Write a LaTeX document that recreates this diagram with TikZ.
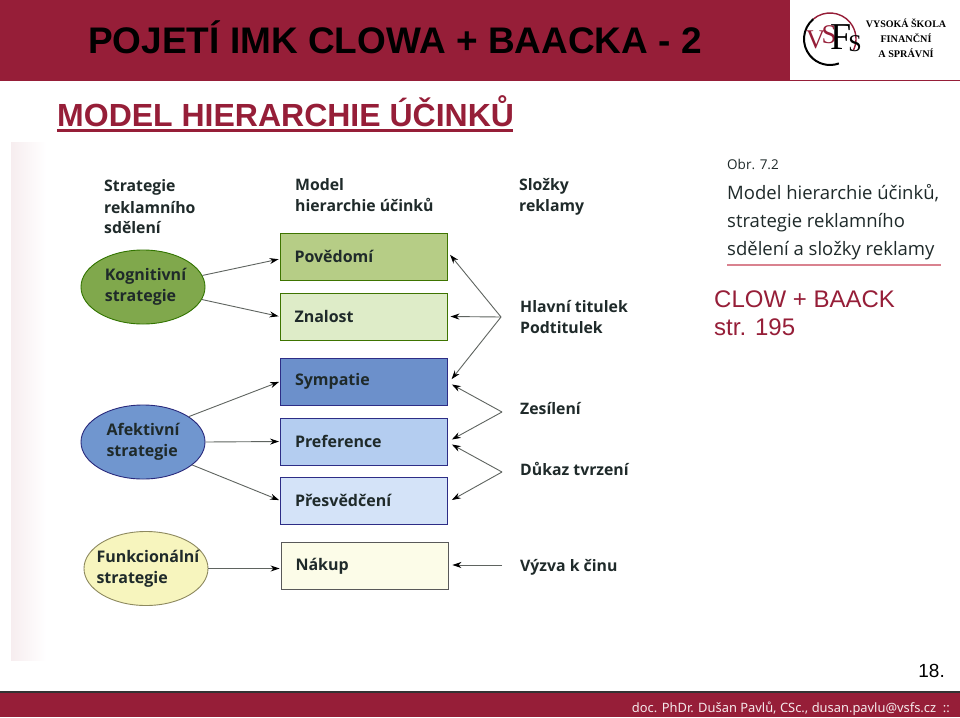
\documentclass[tikz,border=0pt]{standalone}
\usepackage{fontspec}
\usetikzlibrary{arrows.meta,shapes.geometric}
\setmainfont{Liberation Sans}
\newfontfamily\dgfont{Open Sans}
\newfontfamily\logofont{Liberation Serif}
\newfontfamily\footfont{Noto Sans}
\definecolor{crim}{HTML}{961E38}
\definecolor{inkdark}{HTML}{1F2A2A}
\definecolor{edgegrey}{HTML}{5F6460}
\definecolor{rulepink}{HTML}{D9828F}
\tikzset{
  lbl/.style={anchor=base west,inner sep=0pt,font=\dgfont\bfseries\fontsize{15.8}{15.8}\selectfont,text=inkdark},
  captext/.style={anchor=base west,inner sep=0pt,font=\dgfont\fontsize{18.5}{18.5}\selectfont,text=inkdark},
  stagebox/.style={draw=#1!70!black,line width=0.9pt,minimum height=47pt,text width=138pt,inner xsep=14.5pt,inner ysep=0pt,align=left,font=\dgfont\bfseries\fontsize{16}{16}\selectfont,text=inkdark},
  stratell/.style={ellipse,draw=#1!65!black,line width=0.9pt,minimum width=124pt,minimum height=74pt,inner sep=0pt,align=left,font=\dgfont\bfseries\fontsize{16}{21}\selectfont,text=inkdark},
  link/.style={draw=edgegrey,line width=0.9pt,-{Stealth[length=9pt,width=6pt,color=black]},shorten >=1pt},
  linkR/.style={link},
}
\begin{document}
\begin{tikzpicture}[x=1pt,y=-1pt]
\useasboundingbox (0,0) rectangle (960,717);
\fill[white] (0,0) rectangle (960,717);
% page furniture
\fill[crim] (0,0) rectangle (790,81);
\fill[crim] (790,79.5) rectangle (960,81);
\fill[black!80] (0,690.5) rectangle (960,693);
\fill[crim] (0,693) rectangle (960,717);
\shade[left color=crim!8,right color=white] (11,142) rectangle (46,660);
\node[anchor=base west,inner sep=0pt,font=\fontsize{37}{37}\selectfont\bfseries,text=black] (title) at (88,53) {POJETÍ IMK CLOWA + BAACKA - 2};
\node[anchor=base west,inner sep=0pt,font=\fontsize{32}{32}\selectfont\bfseries,text=crim] (sub) at (57,126) {MODEL HIERARCHIE ÚČINKŮ};
\fill[crim] (57,129) rectangle (513,132);
% logo
\draw[crim,line width=1.4pt] ([shift={(230:26)}]830,39) arc[start angle=230,end angle=385,radius=26];
\draw[black,line width=2pt] ([shift={(230:26)}]830,39) arc[start angle=230,end angle=70,radius=26];
\node[font=\logofont\fontsize{27}{27}\selectfont,text=crim,inner sep=0pt] (lv) at (815.5,40) {V};
\node[font=\logofont\fontsize{27}{27}\selectfont,text=crim,inner sep=0pt] (ls1) at (829,35) {S};
\node[font=\logofont\fontsize{38}{38}\selectfont,text=black,inner sep=0pt] (lf) at (841,37) {F};
\node[font=\logofont\fontsize{24}{24}\selectfont,text=black,inner sep=0pt] (ls2) at (855,44) {S};
\node[font=\logofont\bfseries\fontsize{10}{10}\selectfont,text=black,inner sep=0pt] (l1) at (906,23) {VYSOKÁ ŠKOLA};
\node[font=\logofont\bfseries\fontsize{10.2}{10.2}\selectfont,text=black,inner sep=0pt] (l2) at (906,38) {FINANČNÍ};
\node[font=\logofont\bfseries\fontsize{10.2}{10.2}\selectfont,text=black,inner sep=0pt] (l3) at (906,53) {A SPRÁVNÍ};
% column headings
\node[lbl,align=left,anchor=north west] (h1) at (104,179) {Strategie\\[5pt]reklamního\\[5pt]sdělení};
\node[lbl,align=left,anchor=north west] (h2) at (295,178) {Model\\[5pt]hierarchie účinků};
\node[lbl,align=left,anchor=north west] (h3) at (519,178) {Složky\\[5pt]reklamy};
% boxes
\node[stagebox=green!30!olive,fill={rgb,255:red,182;green,205;blue,134}] (pov) at (363.5,256.5) {Povědomí};
\node[stagebox=green!30!olive,fill={rgb,255:red,222;green,236;blue,200}] (zna) at (363.5,316.5) {Znalost};
\node[stagebox=blue!50!gray,fill={rgb,255:red,108;green,144;blue,203}] (sym) at (364,381.5) {Sympatie};
\node[stagebox=blue!50!gray,fill={rgb,255:red,180;green,205;blue,240}] (pre) at (364,441.5) {Preference};
\node[stagebox=blue!50!gray,fill={rgb,255:red,212;green,227;blue,248}] (pres) at (364,500.5) {Přesvědčení};
\node[stagebox=gray,fill={rgb,255:red,252;green,252;blue,232}] (nak) at (364.5,566) {Nákup};
% ellipses
\node[stratell=green!40!olive,fill={rgb,255:red,128;green,168;blue,76}] (kog) at (143,287) {\hspace*{5pt}Kognitivní\\\hspace*{5pt}strategie};
\node[stratell=blue!50!gray,fill={rgb,255:red,112;green,150;blue,207}] (afe) at (143,442) {Afektivní\\strategie};
\node[stratell=yellow!50!gray,fill={rgb,255:red,247;green,245;blue,190}] (fun) at (146,568.5) {\makebox[70pt][l]{\hspace*{-14.5pt}Funkcionální}\\\makebox[70pt][l]{\hspace*{-14.5pt}strategie}};
% right labels
\node[lbl,align=left,anchor=north west] (hla) at (520,300) {Hlavní titulek\\[5pt]Podtitulek};
\node[lbl] (zes) at (520,414) {Zesílení};
\node[lbl] (duk) at (520,475) {Důkaz tvrzení};
\node[lbl] (vyz) at (520,571) {Výzva k činu};
% caption
\node[anchor=base west,inner sep=0pt,font=\dgfont\fontsize{13.5}{13.5}\selectfont,text=inkdark] (obr) at (727,169) {Obr. 7.2};
\node[captext] (c1) at (727,199) {Model hierarchie účinků,};
\node[captext] (c2) at (727,227) {strategie reklamního};
\node[captext] (c3) at (727,255) {sdělení a složky reklamy};
\fill[rulepink] (727,264.2) rectangle (941,266);
\node[anchor=base west,inner sep=0pt,font=\fontsize{24}{24}\selectfont,text=crim] (cb) at (714,307) {CLOW + BAACK};
\node[anchor=base west,inner sep=0pt,font=\fontsize{24}{24}\selectfont,text=crim] (st) at (714,335) {str. 195};
\node[anchor=base east,inner sep=0pt,font=\fontsize{19}{19}\selectfont,text=black] (pg) at (945,677) {18.};
\node[anchor=base east,inner sep=0pt,font=\footfont\fontsize{12.9}{12.9}\selectfont,text=white!90!crim] (ft) at (950,712) {doc. PhDr. Dušan Pavlů, CSc., dusan.pavlu@vsfs.cz\ \ ::};
% apexes
\coordinate (a1) at (501,317);
\coordinate (a2) at (502,412);
\coordinate (a3) at (502,472);
\coordinate (a4) at (502,565);
% left connectors
\draw[link] (kog.11) -- ([yshift=-2.5pt]pov.west);
\draw[link] (kog.-12) -- (zna.west);
\draw[link] (afe.29) -- (sym.west);
\draw[link] (afe.east) -- (pre.west);
\draw[link] (afe.-25) -- (pres.west);
\draw[link] (fun.east) -- ([yshift=-2.5pt]nak.west);
% right connectors
\draw[linkR] (a1) -- ([xshift=2pt,yshift=2.5pt]pov.east);
\draw[linkR] (a1) -- ([xshift=2pt]zna.east);
\draw[linkR] (a1) -- ([xshift=3pt,yshift=1.5pt]sym.east);
\draw[linkR] (a2) -- ([xshift=3pt,yshift=-2.5pt]sym.east);
\draw[linkR] (a2) -- ([xshift=3pt,yshift=1.5pt]pre.east);
\draw[linkR] (a3) -- ([xshift=3pt,yshift=-2.5pt]pre.east);
\draw[linkR] (a3) -- ([xshift=3pt]pres.east);
\draw[linkR] (a4) -- ([xshift=3pt,yshift=1pt]nak.east);
\end{tikzpicture}
\end{document}
